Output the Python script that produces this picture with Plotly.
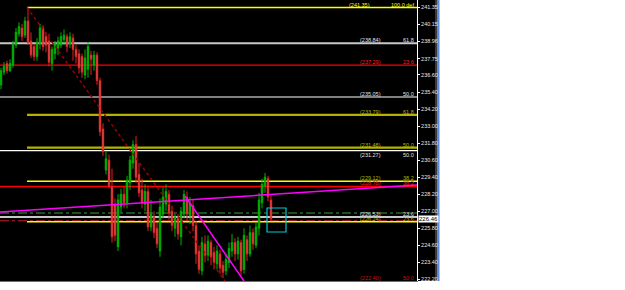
import plotly.graph_objects as go

# ---------------- data ----------------
bar_index = list(range(91))
opens = [235.9, 236.8, 237.4, 236.9, 237.3, 238.7, 239.5, 239.9, 239.4, 240.4,
         239.0, 238.6, 237.9, 238.8, 239.9, 239.3, 239.0, 237.4, 238.1, 238.5,
         238.7, 239.1, 239.3, 238.8, 239.2, 238.4, 238.1, 237.9, 236.6, 237.0,
         238.0, 237.3, 238.0, 236.2, 232.8, 229.9, 230.6, 228.7, 227.5, 224.5,
         227.3, 228.2, 227.6, 229.0, 230.4, 231.7, 229.6, 228.5, 227.5, 228.4,
         225.9, 226.6, 225.8, 224.2, 226.8, 227.5, 228.2, 227.0, 225.8, 226.5,
         225.2, 226.8, 228.0, 226.7, 227.4, 226.0, 224.2, 222.8, 224.7, 223.9,
         224.8, 224.1, 223.3, 224.0, 223.2, 222.8, 223.4, 224.2, 224.8, 224.0,
         224.8, 222.9, 225.0, 224.0, 225.5, 224.6, 225.8, 227.6, 228.8, 229.3,
         227.8]
highs = [237.1, 237.5, 237.6, 237.7, 239.0, 239.9, 240.3, 240.2, 240.7, 241.35,
         239.6, 238.8, 239.2, 240.2, 240.1, 239.6, 239.5, 238.6, 239.0, 239.3,
         239.6, 239.8, 239.5, 239.6, 239.5, 238.7, 238.4, 238.1, 238.4, 238.9,
         238.3, 238.3, 238.2, 236.4, 233.2, 231.2, 231.0, 230.0, 227.9, 228.2,
         228.6, 228.7, 229.5, 230.9, 232.0, 232.3, 230.4, 229.3, 228.9, 228.8,
         227.8, 227.0, 226.2, 227.9, 228.7, 228.9, 228.5, 227.4, 226.9, 226.8,
         227.3, 228.5, 228.4, 228.0, 227.8, 226.3, 224.6, 225.2, 225.3, 225.3,
         225.0, 224.5, 224.6, 224.3, 223.5, 224.0, 224.8, 225.4, 225.1, 225.2,
         225.0, 225.8, 225.3, 226.0, 225.8, 226.2, 228.3, 229.3, 229.7, 229.5,
         228.1]
lows = [235.6, 236.6, 236.7, 236.8, 237.1, 238.5, 239.3, 239.0, 239.2, 238.7,
        237.8, 237.6, 237.6, 238.4, 238.3, 238.2, 237.2, 236.9, 237.7, 238.0,
        238.5, 238.7, 238.2, 238.5, 237.6, 237.4, 236.7, 236.4, 236.3, 236.4,
        236.6, 236.9, 235.9, 232.3, 230.9, 229.6, 228.6, 224.8, 224.9, 224.2,
        226.9, 227.2, 227.2, 228.5, 230.0, 229.0, 228.0, 227.2, 227.0, 225.6,
        225.6, 225.1, 224.4, 223.8, 226.5, 227.0, 226.4, 225.6, 225.2, 225.0,
        224.6, 226.5, 226.3, 226.1, 225.6, 223.3, 222.6, 222.5, 223.4, 223.5,
        223.2, 222.9, 222.9, 222.6, 222.3, 222.5, 223.0, 223.8, 223.5, 223.6,
        222.5, 222.6, 223.5, 223.8, 224.3, 224.4, 225.3, 227.2, 228.3, 227.7,
        226.3]
closes = [236.9, 237.2, 236.9, 237.4, 238.8, 239.6, 240.0, 239.3, 240.4, 238.9,
          238.0, 237.9, 238.9, 239.9, 238.6, 238.7, 237.5, 238.4, 238.8, 239.0,
          239.3, 239.4, 238.6, 239.3, 238.4, 237.9, 237.1, 236.8, 237.8, 238.6,
          237.7, 238.0, 236.2, 232.6, 231.2, 230.7, 228.8, 225.2, 225.3, 227.8,
          228.2, 227.6, 229.2, 230.6, 231.7, 229.4, 228.3, 227.6, 228.4, 225.9,
          226.8, 225.5, 224.7, 227.3, 228.0, 228.4, 226.9, 226.0, 226.6, 225.4,
          227.0, 228.2, 226.8, 227.6, 226.0, 224.0, 222.9, 224.8, 223.9, 224.9,
          223.8, 223.4, 224.2, 223.0, 222.7, 223.6, 224.4, 224.8, 224.0, 224.9,
          222.8, 225.3, 224.0, 225.5, 224.7, 225.9, 227.8, 228.9, 229.4, 228.0,
          226.46]

price_ticks = [241.35, 240.15, 238.96, 237.75, 236.60, 235.40, 234.20, 233.00,
               231.80, 230.60, 229.40, 228.20, 227.00, 225.80, 224.60, 223.40, 222.20]
tick_labels = ["241.35", "240.15", "238.96", "237.75", "236.60", "235.40", "234.20",
               "233.00", "231.80", "230.60", "229.40", "228.20", "227.00", "225.80",
               "224.60", "223.40", "222.20"]
current_price = 226.46

# fibonacci level lines
level_prices = [241.35, 238.84, 237.29, 235.05, 233.79, 231.48, 231.27,
                229.12, 228.75, 226.88, 226.60, 226.33, 226.26]
level_value_text = ["(241.35)", "(238.84)", "(237.29)", "(235.05)", "(233.79)", "(231.48)",
                    "(231.27)", "(229.12)", "(228.75)", "", "(226.53)", "", "(226.24)"]
level_pct_text = ["100.0 def", "61.8", "23.6", "50.0", "61.8", "50.0",
                  "50.0", "38.2", "38.2", "", "23.6", "", "23.6"]
bottom_label_price = 222.30
bottom_label_value = "(222.40)"
bottom_label_pct = "50.0"

# trend lines (bar index, price)
dotted_trend_x = [8.67, 74.67]
dotted_trend_y = [241.35, 222.09]
magenta_long_x = [-0.33, 138.67]
magenta_long_y = [226.95, 228.85]
magenta_steep_x = [61.33, 81.0]
magenta_steep_y = [228.08, 222.09]
box_x = [88.67, 95.0]
box_y = [225.54, 227.23]

# ---------------- styles ----------------
YEL = "#FFFF00"
OLV = "#B4B400"
level_style = [
    dict(color=YEL, width=1.5, dash="solid", start=8.67),
    dict(color="#C8C8C8", width=2, dash="solid", start=-0.33),
    dict(color="#FF0000", width=1.2, dash="solid", start=-0.33),
    dict(color="#FFFFFF", width=1.2, dash="solid", start=-0.33),
    dict(color=OLV, width=2.2, dash="solid", start=8.67),
    dict(color=OLV, width=2.2, dash="solid", start=8.67),
    dict(color="#FFFFFF", width=1.2, dash="solid", start=-0.33),
    dict(color=YEL, width=1.5, dash="solid", start=8.67),
    dict(color="#FF0000", width=1.5, dash="solid", start=-0.33),
    dict(color="#3C9A3C", width=1, dash="dashdot", start=-0.33),
    dict(color="#C8C8C8", width=2, dash="solid", start=-0.33),
    dict(color="#D02020", width=1, dash="dashdot", start=-0.33),
    dict(color=YEL, width=1.5, dash="solid", start=8.67),
]
label_color = [YEL, "#E0E0E0", "#FF2020", "#E0E0E0", OLV, OLV, "#E0E0E0",
               OLV, "#FF2020", "#E0E0E0", "#E0E0E0", "#E0E0E0", OLV]
label_shift = [3, 3, 3, 3, 3, 3, -4, 3, 3, 3, 3, 3, 3]

X_MIN, X_MAX = -0.333, 138.667
Y_MIN, Y_MAX = 222.09, 241.88
FONT = "Liberation Sans"

fig = go.Figure()
fig.add_trace(go.Candlestick(
    x=bar_index, open=opens, high=highs, low=lows, close=closes,
    increasing=dict(line=dict(color="#00B000", width=1), fillcolor="#00C000"),
    decreasing=dict(line=dict(color="#E02020", width=1), fillcolor="#FFA8A8"),
    whiskerwidth=0, hoverinfo="skip"))

shapes = []
for p, st in zip(level_prices, level_style):
    shapes.append(dict(type="line", xref="x", yref="y", x0=st["start"], x1=X_MAX,
                       y0=p, y1=p, line=dict(color=st["color"], width=st["width"], dash=st["dash"]),
                       layer="below"))

shapes.append(dict(type="line", xref="x", yref="y", x0=dotted_trend_x[0], x1=dotted_trend_x[1],
                   y0=dotted_trend_y[0], y1=dotted_trend_y[1],
                   line=dict(color="#9A0000", width=1.5, dash="dot")))
shapes.append(dict(type="line", xref="x", yref="y", x0=magenta_long_x[0], x1=magenta_long_x[1],
                   y0=magenta_long_y[0], y1=magenta_long_y[1],
                   line=dict(color="#FF00FF", width=1.5)))
shapes.append(dict(type="line", xref="x", yref="y", x0=magenta_steep_x[0], x1=magenta_steep_x[1],
                   y0=magenta_steep_y[0], y1=magenta_steep_y[1],
                   line=dict(color="#FF00FF", width=1.5)))
shapes.append(dict(type="rect", xref="x", yref="y", x0=box_x[0], x1=box_x[1],
                   y0=box_y[0], y1=box_y[1], line=dict(color="#00C8D0", width=1.2)))

# axis label strip and window frame on the right
PW = 417.0
shapes.append(dict(type="rect", xref="paper", yref="paper", x0=1, x1=435 / PW, y0=0, y1=1,
                   fillcolor="black", line=dict(width=0), layer="below"))
shapes.append(dict(type="rect", xref="paper", yref="paper", x0=435 / PW, x1=437 / PW, y0=0, y1=1,
                   fillcolor="#3A3A3A", line=dict(width=0), layer="below"))
shapes.append(dict(type="rect", xref="paper", yref="paper", x0=437 / PW, x1=439.5 / PW, y0=0, y1=1,
                   fillcolor="#5A8AD8", line=dict(width=0), layer="below"))

annotations = []
VAL_RIGHT = 127.33
TOP_VAL_RIGHT = 123.67
PCT_RIGHT = 138.33
for i, (p, vt, pt) in enumerate(zip(level_prices, level_value_text, level_pct_text)):
    col = label_color[i]
    if vt:
        annotations.append(dict(x=TOP_VAL_RIGHT if i == 0 else VAL_RIGHT, y=p, xref="x", yref="y",
                                text=vt, showarrow=False, xanchor="right", yanchor="middle",
                                yshift=label_shift[i], font=dict(color=col, size=5.5, family=FONT)))
    if pt:
        annotations.append(dict(x=PCT_RIGHT, y=p, xref="x", yref="y",
                                text=pt, showarrow=False, xanchor="right", yanchor="middle",
                                yshift=label_shift[i], font=dict(color=col, size=5.5, family=FONT)))
annotations.append(dict(x=VAL_RIGHT, y=bottom_label_price, xref="x", yref="y", text=bottom_label_value,
                        showarrow=False, xanchor="right", yanchor="middle",
                        font=dict(color="#D01010", size=5.5, family=FONT)))
annotations.append(dict(x=PCT_RIGHT, y=bottom_label_price, xref="x", yref="y", text=bottom_label_pct,
                        showarrow=False, xanchor="right", yanchor="middle",
                        font=dict(color="#D01010", size=5.5, family=FONT)))
annotations.append(dict(x=1, xref="paper", y=current_price, yref="y", text=current_price.__format__(".2f"),
                        showarrow=False, xanchor="left", yanchor="middle", xshift=1,
                        bgcolor="white", borderpad=0,
                        font=dict(color="black", size=6, family=FONT)))

fig.update_layout(
    width=625, height=290,
    margin=dict(l=0, r=208, t=0, b=9, pad=0),
    paper_bgcolor="white", plot_bgcolor="black",
    showlegend=False,
    shapes=shapes, annotations=annotations,
    xaxis=dict(range=[X_MIN, X_MAX], showgrid=False, zeroline=False, showticklabels=False,
               rangeslider=dict(visible=False), showline=True, linecolor="#707070", linewidth=1,
               ticks=""),
    yaxis=dict(side="right", range=[Y_MIN, Y_MAX], tickvals=price_ticks, ticktext=tick_labels,
               tickfont=dict(color="#E8E8E8", size=5.5, family=FONT),
               ticks="outside", ticklen=2, tickcolor="white",
               showline=True, linecolor="white", linewidth=1,
               showgrid=False, zeroline=False),
)

fig.write_html("out.html")
